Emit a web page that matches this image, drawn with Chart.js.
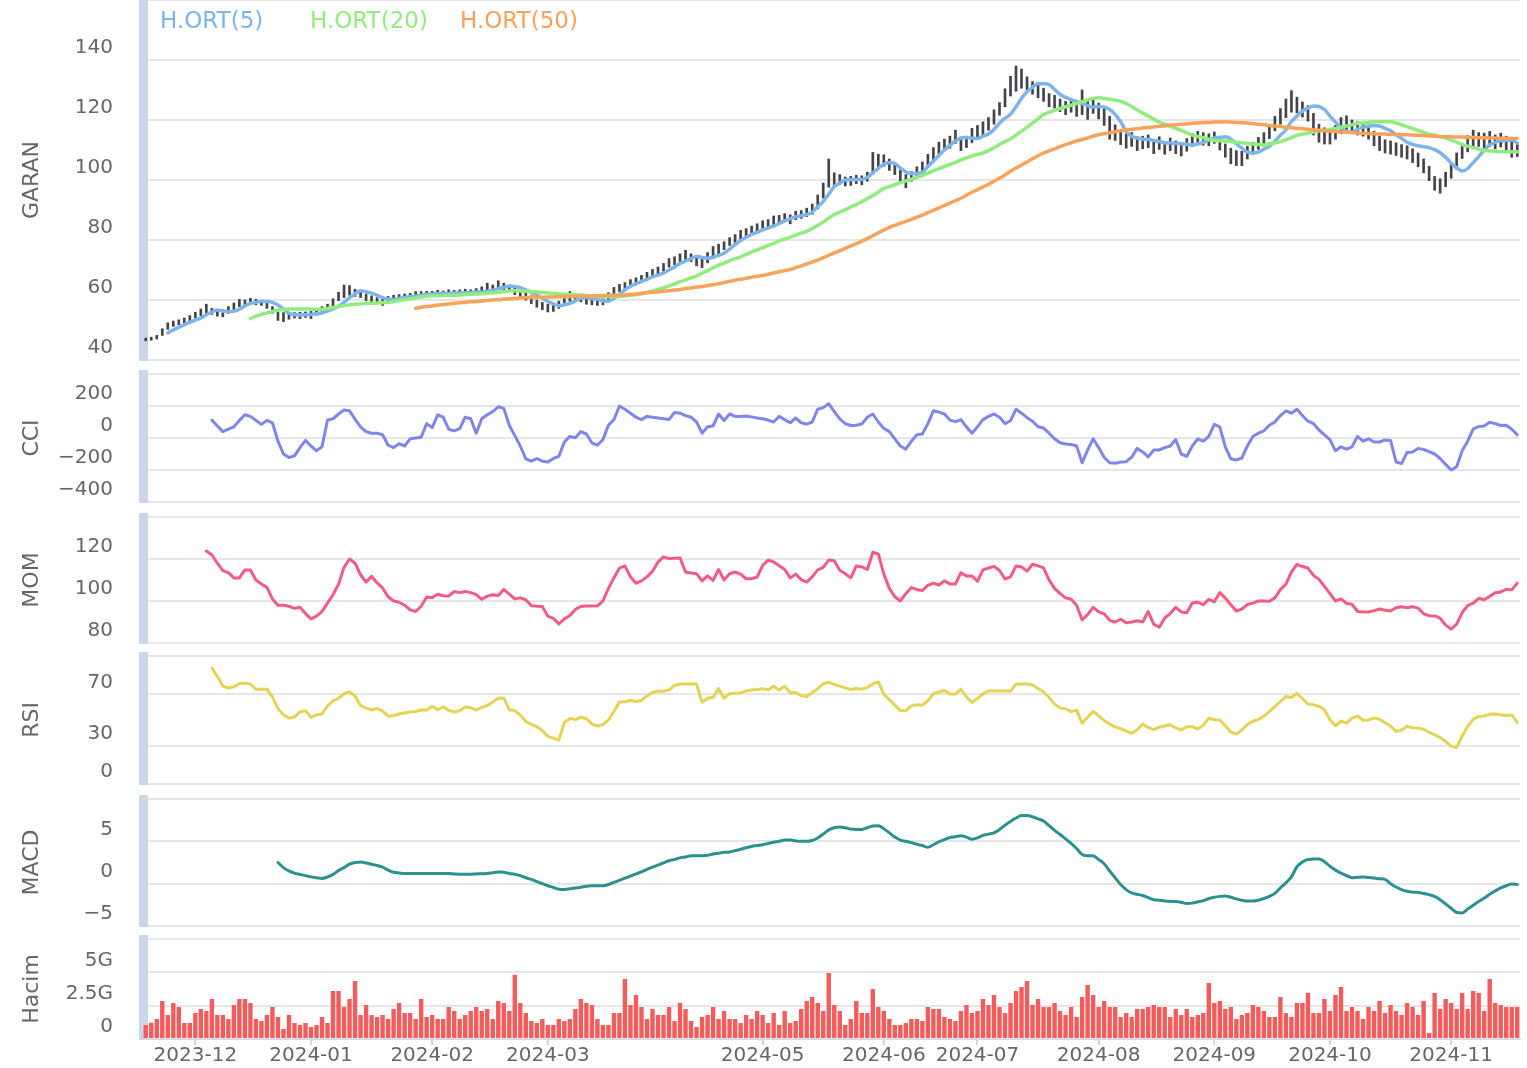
<!DOCTYPE html>
<html><head><meta charset="utf-8">
<script src="https://cdn.jsdelivr.net/npm/chart.js@4.4.1/dist/chart.umd.min.js"></script>
<style>
html,body{margin:0;padding:0;background:#fff;}
#wrap{position:relative;width:1527px;height:1068px;overflow:hidden;background:#fff;}
#wrap canvas{position:absolute;left:0;}
#legend{position:absolute;left:160px;top:5px;font-family:"DejaVu Sans",sans-serif;font-size:23px;line-height:30px;white-space:nowrap;}
#legend span{display:inline-block;width:150px;}
</style></head><body>
<div id="wrap">
<canvas id="cMain" width="1527" height="362" style="top:0px"></canvas>
<canvas id="cCci" width="1527" height="134" style="top:370px"></canvas>
<canvas id="cMom" width="1527" height="132" style="top:513px"></canvas>
<canvas id="cRsi" width="1527" height="134" style="top:652px"></canvas>
<canvas id="cMacd" width="1527" height="133" style="top:795px"></canvas>
<canvas id="cVol" width="1527" height="133" style="top:935px"></canvas>
<div id="legend"></div>
</div>
<script>
// ---------- categories ----------
const startDate = '2023-11-20';
const endDate = '2024-11-19';
const holidays = ['2024-01-01','2024-04-10','2024-04-11','2024-04-12','2024-04-23','2024-05-01',
  '2024-06-17','2024-06-18','2024-06-19','2024-07-15','2024-08-30','2024-10-29'];
const monthTicks = ['2023-12','2024-01','2024-02','2024-03','2024-05','2024-06','2024-07','2024-08','2024-09','2024-10','2024-11'];

// ---------- price bars (low / high) ----------
const lows = [
46.4,46.6,47.0,48.2,50.2,51.2,51.8,52.4,53.0,54.0,
54.8,55.6,55.2,54.6,54.4,55.6,56.8,57.8,58.4,58.8,
58.4,58.2,57.2,55.6,53.2,52.8,53.6,54.0,53.8,54.2,
53.8,55.0,55.4,56.6,57.6,59.8,60.8,61.6,61.2,60.8,
59.8,59.4,59.0,58.2,59.6,60.0,60.2,60.4,60.8,61.0,
61.2,61.4,61.2,61.4,61.6,61.4,61.6,61.8,61.8,62.0,
62.0,62.4,62.8,63.2,63.8,63.4,62.8,61.8,61.0,60.0,
58.8,57.6,56.8,56.0,56.2,57.2,58.4,59.6,59.8,59.4,
58.6,58.4,58.2,58.4,59.4,61.2,62.8,63.6,64.4,65.2,
66.0,66.6,67.4,68.4,69.6,71.0,71.8,72.6,73.2,72.8,
71.4,70.8,72.4,73.8,75.2,76.8,78.2,79.2,80.2,81.2,
82.0,82.6,83.2,84.0,85.0,85.8,86.2,85.4,86.8,87.2,
87.8,88.6,90.4,94.0,97.6,98.2,98.6,98.0,98.2,98.8,
98.4,99.6,102.0,104.2,104.6,103.2,101.8,98.8,97.4,99.6,
101.2,102.4,104.4,106.6,108.8,109.8,110.6,112.2,109.8,110.8,
112.4,113.8,114.8,116.6,118.6,121.6,124.4,128.0,129.6,130.6,
130.0,128.6,127.4,126.2,124.4,124.0,122.8,121.8,122.6,121.2,
121.8,120.2,122.2,120.4,118.2,113.6,113.2,111.8,110.6,111.2,
109.8,110.4,110.8,108.8,110.2,108.6,109.8,108.8,108.0,109.6,
111.2,112.0,111.6,111.4,112.2,110.0,107.6,105.4,104.8,104.8,
107.0,108.6,110.2,111.6,113.8,116.4,118.6,120.8,122.6,122.4,
121.0,119.6,115.0,112.6,112.0,112.0,113.6,115.4,116.6,115.6,
115.0,114.6,113.6,111.4,109.8,109.0,108.6,108.2,107.6,107.0,
105.8,104.4,102.4,99.8,96.6,95.6,97.8,100.6,103.6,107.2,
109.4,110.8,111.2,110.6,111.2,110.4,111.0,110.0,107.6,107.8];
const highs = [
47.3,47.6,48.2,50.4,52.4,53.0,53.4,54.0,54.8,55.9,
57.0,58.6,57.2,56.6,56.8,57.8,59.0,60.2,60.0,60.6,
60.2,59.8,59.0,57.8,56.4,55.8,55.6,55.8,55.9,56.0,
56.2,56.8,57.8,58.6,60.4,62.6,65.0,64.8,63.6,63.0,
62.0,61.4,60.8,61.0,61.2,61.6,61.8,62.0,62.2,62.8,
62.8,62.9,62.9,63.2,63.0,63.4,63.2,63.4,63.6,63.4,
63.8,64.4,65.6,65.0,66.4,65.6,64.8,64.0,63.2,62.4,
61.4,60.0,59.2,58.6,58.6,59.6,60.6,62.8,61.8,61.4,
60.8,60.4,60.0,60.4,62.4,64.2,65.2,65.8,66.8,67.4,
68.2,69.2,70.2,71.0,72.2,73.8,74.4,75.4,76.6,75.4,
74.6,73.8,75.8,77.8,78.6,79.4,80.8,81.8,83.2,83.8,
84.6,85.4,86.4,86.8,88.0,88.2,88.8,88.4,89.6,89.8,
90.6,92.0,95.0,99.0,107.0,102.4,101.8,101.0,101.2,101.6,
101.4,102.6,109.2,108.6,108.4,107.0,105.6,103.2,101.8,102.8,
104.4,106.0,108.6,110.8,112.6,113.6,114.6,116.6,114.2,114.6,
117.2,118.2,119.4,120.8,123.4,125.8,130.4,134.6,138.0,137.0,
134.4,132.8,131.6,130.6,128.8,128.2,127.0,126.2,126.6,125.8,
130.0,126.6,126.8,125.6,123.8,121.2,118.4,116.6,115.4,115.8,
114.4,114.6,115.0,113.4,114.4,112.8,114.0,113.0,112.4,113.8,
115.4,116.2,115.8,115.4,116.0,114.6,112.0,110.6,109.8,109.6,
111.2,112.6,114.2,115.8,118.2,121.2,123.8,127.0,129.8,127.6,
126.0,124.8,122.2,118.6,117.4,116.8,118.2,120.8,121.4,120.0,
119.4,118.8,118.0,116.2,114.6,113.4,113.0,112.4,111.8,111.4,
110.4,109.0,107.0,104.6,101.2,100.4,102.6,105.6,109.0,112.2,
114.8,116.6,115.8,115.6,116.2,115.0,115.6,114.6,112.8,112.2];

// ---------- moving averages ----------
const ma5 = [
null,null,null,null,49.0,50.0,50.9,51.8,52.6,53.3,
54.0,55.1,56.0,56.7,56.3,56.1,56.3,56.9,58.0,58.9,
59.2,59.6,59.5,59.2,58.3,57.0,55.6,55.2,55.0,55.1,
55.2,55.4,55.7,56.3,57.0,57.9,59.2,60.8,62.0,63.1,
62.8,62.3,61.6,60.8,60.3,60.2,60.5,60.8,61.1,61.3,
61.6,61.9,62.0,62.1,62.2,62.2,62.3,62.3,62.4,62.5,
62.6,62.7,62.9,63.3,63.8,64.2,64.7,64.5,64.1,63.4,
62.5,61.6,60.7,59.5,58.7,58.1,58.4,58.9,59.7,60.6,
60.8,60.5,60.2,59.7,59.6,60.5,61.8,63.4,64.6,65.4,
66.2,66.9,67.7,68.3,69.0,70.0,71.0,72.2,73.0,73.8,
74.5,74.2,73.9,74.3,74.9,75.6,77.0,78.5,79.8,80.9,
81.9,82.6,83.4,84.0,84.6,85.5,86.4,87.1,87.7,88.1,
88.5,89.3,91.1,92.9,95.3,97.8,99.0,100.0,100.1,100.2,
100.2,100.9,102.4,103.9,105.2,105.8,105.5,104.0,102.7,102.2,
102.2,102.6,104.5,106.3,108.2,110.0,111.5,113.0,114.0,114.2,
113.9,113.8,114.6,115.3,116.9,118.9,120.6,121.9,124.4,127.2,
129.4,130.9,132.2,132.1,131.8,130.2,128.5,127.6,126.8,126.2,
125.5,124.8,124.3,124.5,124.3,123.5,121.9,119.4,116.2,114.6,
114.0,113.7,113.5,113.2,112.8,112.4,112.3,112.2,112.1,111.9,
111.7,112.0,112.5,113.4,114.0,114.2,114.4,113.6,112.1,110.6,
109.3,109.0,109.3,110.3,111.2,112.9,114.9,116.7,119.5,121.3,
123.0,124.0,124.7,124.5,123.5,121.3,119.3,117.4,116.2,115.9,
117.0,117.6,118.0,118.2,118.0,117.2,116.4,115.1,113.9,112.6,
111.9,111.4,111.1,110.8,110.1,109.1,107.6,105.6,104.1,103.0,
103.8,105.8,107.8,109.9,111.7,112.5,113.2,113.2,113.3,112.3];
const ma20 = [
null,null,null,null,null,null,null,null,null,null,
null,null,null,null,null,null,null,null,null,53.8,
54.6,55.2,55.7,56.2,56.6,56.8,57.0,57.0,57.0,57.0,
57.0,56.9,56.9,57.2,57.5,57.8,58.1,58.4,58.6,58.7,
58.9,58.9,59.0,59.1,59.2,59.5,59.8,60.1,60.4,60.7,
61.0,61.3,61.4,61.4,61.5,61.6,61.6,61.7,61.8,61.9,
62.0,62.1,62.3,62.4,62.6,62.8,63.0,63.1,63.0,62.9,
62.8,62.7,62.5,62.4,62.2,62.0,61.9,61.8,61.7,61.7,
61.5,61.4,61.2,61.1,61.1,61.2,61.2,61.3,61.6,61.8,
62.1,62.5,63.0,63.5,64.0,64.7,65.4,66.1,66.7,67.4,
68.0,68.9,69.8,70.7,71.6,72.3,73.1,73.8,74.4,75.2,
76.0,76.7,77.4,78.2,78.9,79.7,80.3,80.9,81.6,82.3,
82.9,83.8,84.9,86.0,87.3,88.5,89.3,90.1,91.0,91.8,
92.8,93.8,94.8,96.0,97.2,97.8,98.5,99.1,99.7,100.3,
100.9,101.5,102.3,103.1,103.8,104.5,105.2,105.9,106.7,107.4,
108.0,108.5,109.0,109.8,110.8,111.8,112.8,113.7,114.9,116.3,
117.6,119.0,120.4,121.8,122.6,123.2,123.8,124.4,124.9,125.5,
126.1,126.7,127.2,127.4,127.2,126.9,126.6,126.2,125.5,124.5,
123.4,122.3,121.3,120.3,119.3,118.6,117.9,117.2,116.5,115.7,
115.0,114.5,114.1,113.6,113.2,113.1,113.0,112.8,112.6,112.4,
112.2,112.0,111.8,111.7,112.0,112.4,112.8,113.4,114.1,114.9,
115.3,115.6,116.0,116.4,116.6,116.9,117.2,117.6,118.0,118.4,
118.8,119.0,119.2,119.4,119.4,119.4,119.4,119.0,118.4,117.8,
117.1,116.5,115.9,115.3,114.9,114.4,114.0,113.3,112.6,111.8,
111.3,110.8,110.3,109.8,109.7,109.6,109.4,109.4,109.4,109.4];
const ma50 = [
null,null,null,null,null,null,null,null,null,null,
null,null,null,null,null,null,null,null,null,null,
null,null,null,null,null,null,null,null,null,null,
null,null,null,null,null,null,null,null,null,null,
null,null,null,null,null,null,null,null,null,57.2,
57.6,57.8,58.0,58.3,58.5,58.7,58.9,59.1,59.2,59.4,
59.5,59.7,59.8,60.0,60.1,60.3,60.4,60.5,60.7,60.8,
60.8,60.9,60.9,61.0,61.0,61.1,61.1,61.2,61.2,61.3,
61.3,61.4,61.4,61.5,61.5,61.6,61.6,61.7,61.9,62.0,
62.2,62.4,62.6,62.7,62.9,63.1,63.3,63.5,63.8,64.0,
64.3,64.5,64.8,65.1,65.4,65.8,66.2,66.6,66.9,67.2,
67.6,67.9,68.2,68.6,69.0,69.4,69.8,70.2,70.8,71.4,
72.0,72.6,73.3,74.1,74.9,75.7,76.4,77.2,78.0,78.8,
79.6,80.5,81.4,82.4,83.3,84.2,84.9,85.6,86.2,86.9,
87.6,88.3,89.1,89.9,90.7,91.5,92.3,93.1,93.9,94.9,
95.9,96.8,97.7,98.6,99.6,100.6,101.7,102.9,104.0,105.0,
106.0,107.1,108.1,109.0,109.7,110.4,111.1,111.8,112.4,113.0,
113.5,114.0,114.6,115.1,115.4,115.7,116.1,116.4,116.7,116.9,
117.1,117.3,117.5,117.7,117.9,118.1,118.3,118.4,118.6,118.7,
118.9,119.0,119.1,119.2,119.3,119.3,119.4,119.3,119.2,119.1,
119.0,118.8,118.6,118.4,118.2,118.0,117.8,117.6,117.4,117.2,
117.1,116.9,116.7,116.6,116.4,116.3,116.2,116.0,115.9,115.8,
115.7,115.6,115.5,115.4,115.3,115.3,115.2,115.2,115.1,115.1,
115.0,114.9,114.8,114.7,114.6,114.5,114.4,114.4,114.3,114.3,
114.2,114.2,114.1,114.1,114.0,114.0,113.9,113.9,113.8,113.8];

// ---------- indicators ----------
const cci = [
null,null,null,null,null,null,null,null,null,null,
null,null,112,75,40,55,70,110,145,135,
110,85,110,95,-20,-100,-122,-112,-60,-15,
-50,-80,-55,112,120,150,175,170,118,70,
40,30,30,20,-45,-60,-35,-50,-5,0,
5,90,65,145,130,55,45,58,130,120,
30,120,145,165,195,185,80,15,-50,-130,
-145,-128,-145,-150,-128,-115,-25,10,2,40,
25,-30,-45,-10,80,115,200,180,155,130,
115,135,130,125,120,115,160,155,140,130,
100,30,70,75,150,110,150,135,135,137,
132,125,120,112,100,135,115,95,125,95,
87,100,180,190,215,165,120,90,78,80,
87,130,150,100,60,40,-5,-50,-70,-20,
20,25,90,170,162,150,112,102,115,70,
30,70,115,135,150,130,90,108,180,155,
127,105,70,62,30,-5,-30,-37,-40,-50,
-155,-75,-5,-60,-120,-155,-158,-150,-148,-120,
-65,-87,-118,-75,-75,-60,-50,-10,-100,-115,
-50,-5,-20,10,85,70,-55,-130,-137,-125,
-50,10,30,45,80,100,140,170,155,180,
140,105,90,50,20,-10,-80,-55,-70,-55,
10,-20,-5,-25,-25,-12,-15,-150,-160,-90,
-87,-65,-72,-85,-100,-128,-165,-200,-180,-80,
-20,55,72,75,98,90,78,80,55,20];
const mom = [
null,null,null,null,null,null,null,null,null,null,
null,123.8,122,118,114.5,113.5,111,111,114.8,114.8,
110,108.1,106.5,101,98,98,97.5,96.5,97,94,
91.5,92.8,95,99,103,108,116,120,118,112.5,
109,111.8,108.6,106.2,102,100,99.4,98,95.8,95,
97.5,101.9,101.6,103.2,102.5,102.4,104.5,104,104.5,104,
103,100.8,102.3,103,102.6,105.5,103.3,101,101.5,100.6,
97.8,97.5,97.4,92.8,91.7,89.1,91.5,93.1,96,97.4,
97.6,97.6,97.7,100,106,111,115.7,116.7,111.5,108.5,
109.6,111.5,114.2,118.5,121,120.2,120.3,120.5,113.8,113.3,
113,109.6,112,109.8,115,110,113,113.8,112.8,110.6,
110.6,111.4,117,119.5,118.6,116.8,115,111,112.8,110.2,
109,111.5,114.8,116,119.5,119.2,114.6,113,111,116.7,
116.2,115,123.2,122.4,112.8,106,102,100,103.5,106.4,
105.5,105,107.4,108.5,107.6,109.6,108.1,108.1,113.4,111.9,
111.9,109.4,114.8,115.7,116.5,114.5,110.5,111.5,116.7,116.2,
114.2,117.5,116.7,115.8,110,106,103.5,101.5,100.8,98,
91,93.5,97,94.8,93.9,90.8,90,91.3,89.6,90,
90.6,90,95,89,87.5,91.9,94,97,94.8,94.4,
99,99.4,98.3,100.8,99.6,104,101.4,98.2,95.2,96.2,
98.3,99,100,100,99.9,101.5,105.4,108,113.8,117.4,
116.4,115.7,112.2,110.3,107,103.5,100,101,98.8,98.5,
95,94.8,94.8,95.4,96.2,95.6,95.2,96.8,97.3,96.8,
97.3,96.6,93.9,93,92.9,91.8,88.5,86.6,89,94.5,
97.8,99,101.3,100.6,102.2,103.9,104.3,105.6,105.3,108.5];
const rsi = [
null,null,null,null,null,null,null,null,null,null,
null,null,90.6,84,76.5,75,76,78.5,78.8,78.1,
74,74,74,68,59,54,51.6,52.4,56.3,57.3,
52,54,54.7,61,65,67,70.5,72,68.8,61.2,
59.3,57.9,59,57,53,53.5,54.7,55.4,56.3,56.6,
57.8,57.8,60.8,58,60.4,57.5,56.3,57.2,60.2,59.5,
57.8,59.8,61.4,64,67,67.2,58,57.4,53.8,48.8,
46.6,44.8,41.8,37.2,35.8,34.4,48,51.3,50.3,52.2,
51,47,45.3,46.4,50,56.6,64.1,64.2,65.4,64.5,
65.3,68.8,71.5,72.7,72.4,73.4,77,78.1,78.1,78.1,
78.1,63.8,67,67.7,74.5,67,70.8,70.8,71.2,72.6,
73.4,73.9,74.5,73.6,76.4,73.5,76.3,71.3,71.5,69,
68.4,71.5,74.5,78.3,79.5,77.9,76.5,75.1,73.8,74.6,
74,75.3,78.2,79.7,70.2,65.9,61.6,57.4,57.3,61,
61.9,61.6,65,70.5,71.9,73,70.3,70.3,74.2,68,
63.8,66.8,70.4,72.7,72.9,72.6,72.9,72.5,78,78.1,
78.1,77.3,74.6,71.9,67.6,62.4,59.4,58.8,56.5,57.7,
47.5,52.2,56.6,53.3,49.7,46.8,44.6,43.2,41.4,39.6,
42.4,46.9,44,42.5,44.4,45.3,46.3,43.8,42.2,44.7,
44.8,42.9,45.8,51.5,50.2,50,45.5,40.5,39.1,42.2,
46.5,49,50.5,53,56.5,60.7,64.3,68.3,67.6,70.9,
66.8,62.5,61.9,60.8,58,50,45.5,49.2,47.6,51.5,
53.1,49.8,50,51.6,50.6,47.8,45.2,41,42.2,45.1,
44,43.8,42.7,40.4,38.5,36.3,33.2,29.6,28.4,37.5,
45,50.5,52.8,53.1,54.4,54.7,54,53.6,54,48];
const macd = [
null,null,null,null,null,null,null,null,null,null,
null,null,null,null,null,null,null,null,null,null,
null,null,null,null,2.5,1.9,1.5,1.25,1.1,0.95,
0.8,0.7,0.62,0.8,1.1,1.55,1.9,2.3,2.5,2.55,
2.45,2.3,2.15,1.95,1.6,1.35,1.27,1.2,1.2,1.2,
1.2,1.2,1.2,1.2,1.2,1.2,1.15,1.12,1.1,1.12,
1.15,1.18,1.2,1.3,1.38,1.35,1.2,1.12,0.95,0.7,
0.5,0.25,0,-0.25,-0.45,-0.65,-0.68,-0.6,-0.52,-0.42,
-0.3,-0.24,-0.24,-0.24,-0.1,0.15,0.4,0.65,0.9,1.15,
1.4,1.7,1.95,2.2,2.45,2.7,2.85,3.05,3.15,3.3,
3.3,3.3,3.35,3.5,3.6,3.7,3.75,3.9,4.05,4.25,
4.4,4.5,4.6,4.75,4.9,5,5.15,5.15,5.05,5,
5,5.1,5.4,5.85,6.35,6.6,6.7,6.6,6.45,6.4,
6.4,6.6,6.8,6.85,6.5,6,5.5,5.15,5,4.85,
4.65,4.5,4.3,4.6,4.95,5.2,5.45,5.55,5.65,5.5,
5.25,5.4,5.7,5.85,6,6.4,6.9,7.35,7.75,8.05,
8.05,7.9,7.65,7.4,6.85,6.3,5.8,5.3,4.75,4.15,
3.45,3.3,3.3,2.85,2.35,1.5,0.7,-0.1,-0.7,-1.1,
-1.25,-1.4,-1.65,-1.9,-1.95,-2.05,-2.1,-2.1,-2.2,-2.35,
-2.3,-2.15,-2,-1.75,-1.6,-1.5,-1.45,-1.6,-1.8,-1.95,
-2.05,-2.05,-1.95,-1.75,-1.5,-1.15,-0.5,0.1,0.8,2,
2.55,2.85,2.9,2.9,2.6,2.05,1.6,1.25,0.95,0.7,
0.75,0.8,0.72,0.66,0.58,0.5,0,-0.4,-0.7,-0.9,
-1,-1.05,-1.15,-1.3,-1.5,-1.9,-2.4,-2.9,-3.4,-3.45,
-3,-2.55,-2.1,-1.7,-1.25,-0.85,-0.5,-0.25,-0.05,-0.1];
// volume in billions (G)
const volumeG = [
1.05,1.22,1.5,2.85,1.8,2.7,2.4,1.2,1.2,1.95,
2.25,2.1,3.0,1.8,1.8,1.5,2.55,3.0,3.0,2.7,
1.5,1.35,1.8,2.4,1.65,0.75,1.8,1.2,1.05,1.2,
0.9,1.05,1.65,1.2,3.6,3.6,2.4,3.0,4.35,1.8,
2.55,1.8,1.65,1.8,1.5,2.25,2.7,1.95,1.95,1.5,
3.0,1.65,1.8,1.5,1.5,2.4,2.1,1.5,1.8,2.1,
2.4,2.1,2.25,1.5,2.85,2.7,2.1,4.8,2.7,1.95,
1.35,1.2,1.5,1.05,1.05,1.5,1.35,1.5,2.25,3.0,
2.7,2.55,1.5,1.05,1.05,1.95,1.95,4.5,2.55,3.3,
2.4,1.5,2.25,1.8,1.8,2.4,1.35,2.7,2.25,1.35,
0.9,1.65,1.8,2.4,1.5,2.1,1.5,1.5,1.2,1.8,
1.5,2.1,1.8,1.2,1.95,1.05,2.1,1.2,1.35,2.25,
2.85,3.15,2.7,2.1,4.95,2.55,2.1,1.05,1.5,2.85,
1.95,1.95,3.75,2.4,2.1,1.5,1.05,1.05,1.2,1.5,
1.5,1.35,2.4,2.25,2.25,1.65,1.5,1.35,2.1,2.55,
1.95,2.1,3.0,2.55,3.3,2.4,1.95,2.7,3.6,3.9,
4.35,2.55,3.0,2.4,2.4,2.7,2.1,1.8,2.4,1.65,
3.15,4.05,3.3,2.4,2.85,2.4,2.4,1.65,1.95,1.65,
2.25,2.25,2.4,2.55,2.4,2.4,1.65,2.25,1.8,2.25,
1.65,1.8,1.95,4.2,2.7,2.85,2.25,2.4,1.5,1.8,
1.95,2.55,2.4,2.1,1.65,1.65,3.15,1.95,1.65,2.7,
2.7,3.45,1.95,1.95,3.0,2.1,3.3,3.9,2.1,2.4,
2.1,1.5,2.4,2.1,2.85,1.95,2.55,2.1,1.8,2.7,
2.4,1.8,2.85,0.45,3.45,2.25,3.0,2.7,2.25,3.45,
2.25,3.6,3.45,2.1,4.5,2.7,2.55,2.4,2.4,2.4];

// ---------- build category labels (trading days) ----------
const dates = [];
(function(){
  const hs = new Set(holidays);
  let d = new Date(startDate + 'T00:00:00Z');
  const end = new Date(endDate + 'T00:00:00Z');
  while (d <= end) {
    const wd = d.getUTCDay();
    const s = d.toISOString().slice(0,10);
    if (wd !== 0 && wd !== 6 && !hs.has(s)) dates.push(s);
    d = new Date(d.getTime() + 86400000);
  }
})();
const tickLabel = {};
(function(){
  let prev = '';
  dates.forEach((s, i) => {
    const m = s.slice(0,7);
    if (m !== prev && monthTicks.includes(m)) tickLabel[i] = m;
    prev = m;
  });
})();

// ---------- styling ----------
const FONT = '"DejaVu Sans", sans-serif';
const GRID = '#e6e6e6';
const AXIS = '#ccd6eb';
const TXT = '#666666';
const neg = v => (v < 0 ? '\u2212' + Math.abs(v) : String(v));

function yAxis(cfg) {
  return {
    position: 'left',
    min: cfg.min, max: cfg.max,
    afterFit: s => { s.width = 143; s.paddingTop = 0; s.paddingBottom = 0; },
    afterBuildTicks: s => { s.ticks = cfg.ticks.map(v => ({ value: v })); },
    grid: { color: GRID, lineWidth: 2, drawTicks: true, tickLength: 30, tickColor: 'rgba(0,0,0,0)' },
    border: { display: true, color: AXIS, width: 9 },
    ticks: { autoSkip: false, color: TXT, padding: 0, labelOffset: -12, font: { family: FONT, size: 20 },
      callback: v => (v === cfg.max ? '' : cfg.fmt(v)) },
    title: { display: true, text: cfg.title, color: TXT, font: { family: FONT, size: 22 }, padding: { top: 19, bottom: 0 } }
  };
}
function xAxis(show) {
  return {
    type: 'category', offset: true, display: show,
    grid: { display: true, drawOnChartArea: false, drawTicks: true, tickLength: 6, offset: false, lineWidth: 2,
      color: ctx => (tickLabel[ctx.index] ? AXIS : 'rgba(0,0,0,0)') },
    border: { display: show, color: AXIS, width: 1 },
    ticks: { autoSkip: false, maxRotation: 0, minRotation: 0, padding: -1, color: TXT, font: { family: FONT, size: 20 },
      callback: (v, i) => tickLabel[i] || '' },
    afterFit: s => { if (show) s.height = 29; s.paddingLeft = 0; s.paddingRight = 0; }
  };
}
function opts(cfg) {
  return {
    responsive: false, animation: false, devicePixelRatio: 1,
    layout: { autoPadding: false, padding: { left: 0, right: 7, top: cfg.padTop, bottom: cfg.padBottom } },
    plugins: { legend: { display: false }, tooltip: { enabled: false } },
    scales: { x: xAxis(!!cfg.showX), y: yAxis(cfg) }
  };
}
function lineDs(label, data, color, width, tension) {
  return { type: 'line', label, data, borderColor: color, backgroundColor: color, borderWidth: width,
    pointRadius: 0, tension: tension, cubicInterpolationMode: tension ? 'monotone' : 'default',
    borderJoinStyle: 'round', borderCapStyle: 'round', spanGaps: false };
}

// ---------- main price panel ----------
const maSeries = [
  { label: 'H.ORT(5)', data: ma5, color: '#7cb5ec' },
  { label: 'H.ORT(20)', data: ma20, color: '#90ed7d' },
  { label: 'H.ORT(50)', data: ma50, color: '#f7a35c' }
];
new Chart(document.getElementById('cMain'), {
  type: 'bar',
  data: { labels: dates, datasets: [
    lineDs(maSeries[2].label, maSeries[2].data, maSeries[2].color, 3.5, 0.4),
    lineDs(maSeries[1].label, maSeries[1].data, maSeries[1].color, 3.5, 0.4),
    lineDs(maSeries[0].label, maSeries[0].data, maSeries[0].color, 3.5, 0.4),
    { type: 'bar', label: 'GARAN', data: lows.map((l, i) => [l, highs[i]]), backgroundColor: '#434348',
      barThickness: 2, borderWidth: 0, borderSkipped: false }
  ]},
  options: opts({ min: 40, max: 160, ticks: [40,60,80,100,120,140,160], fmt: neg, title: 'GARAN', padTop: 0, padBottom: 2 })
});
const lg = document.getElementById('legend');
maSeries.forEach(s => { const sp = document.createElement('span'); sp.textContent = s.label; sp.style.color = s.color; lg.appendChild(sp); });

// ---------- indicator panels ----------
function indicator(id, label, data, color, tension, cfg) {
  new Chart(document.getElementById(id), {
    type: 'line',
    data: { labels: dates, datasets: [ lineDs(label, data, color, 3, tension) ] },
    options: opts(cfg)
  });
}
indicator('cCci', 'CCI', cci, '#8085e9', 0, { min: -400, max: 400, ticks: [-400,-200,0,200,400], fmt: neg, title: 'CCI', padTop: 4, padBottom: 2 });
indicator('cMom', 'MOM', mom, '#f15c80', 0, { min: 80, max: 140, ticks: [80,100,120,140], fmt: neg, title: 'MOM', padTop: 4, padBottom: 2 });
indicator('cRsi', 'RSI', rsi, '#e4d354', 0, { min: 0, max: 100, ticks: [0,30,70,100], fmt: neg, title: 'RSI', padTop: 4, padBottom: 2 });
indicator('cMacd', 'MACD', macd, '#2b908f', 0.4, { min: -5, max: 10, ticks: [-5,0,5,10], fmt: neg, title: 'MACD', padTop: 4, padBottom: 2 });

// ---------- volume panel ----------
new Chart(document.getElementById('cVol'), {
  type: 'bar',
  data: { labels: dates, datasets: [
    { label: 'Hacim', data: volumeG, backgroundColor: '#f45b5b', barPercentage: 0.8, categoryPercentage: 1.0, borderWidth: 0 }
  ]},
  options: opts({ min: 0, max: 7.5, ticks: [0,2.5,5,7.5], fmt: v => (v === 0 ? '0' : v + 'G'), title: 'Hacim', padTop: 4, padBottom: 0, showX: true })
});
</script>
</body></html>
